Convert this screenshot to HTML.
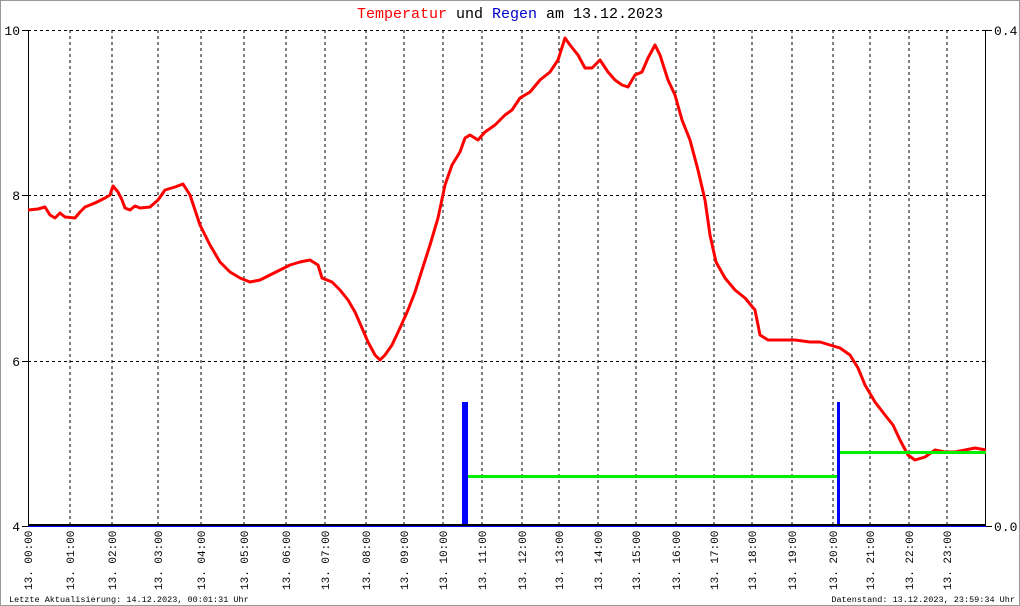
<!DOCTYPE html>
<html><head><meta charset="utf-8"><style>
body{margin:0;background:#fff}
svg{display:block}
text{font-family:"Liberation Mono","DejaVu Sans Mono",monospace}
</style></head><body>
<svg width="1020" height="606" viewBox="0 0 1020 606" xmlns="http://www.w3.org/2000/svg">
<rect x="0.5" y="0.5" width="1019" height="605" fill="#fff" stroke="#999"/>
<text x="510" y="18" text-anchor="middle" font-size="15"><tspan fill="#f00">Temperatur</tspan> <tspan fill="#000">und</tspan> <tspan fill="#00c">Regen</tspan> <tspan fill="#000">am 13.12.2023</tspan></text>
<g stroke="#000" stroke-dasharray="3,3" stroke-width="1">
<line x1="28" y1="30.5" x2="986" y2="30.5"/>
<line x1="28" y1="195.5" x2="986" y2="195.5"/>
<line x1="28" y1="361.5" x2="986" y2="361.5"/>
<g id="v">
<line x1="70" y1="30" x2="70" y2="526"/><line x1="112" y1="30" x2="112" y2="526"/><line x1="158" y1="30" x2="158" y2="526"/><line x1="201" y1="30" x2="201" y2="526"/><line x1="244" y1="30" x2="244" y2="526"/><line x1="286" y1="30" x2="286" y2="526"/><line x1="325" y1="30" x2="325" y2="526"/><line x1="366" y1="30" x2="366" y2="526"/><line x1="404" y1="30" x2="404" y2="526"/><line x1="443" y1="30" x2="443" y2="526"/><line x1="482" y1="30" x2="482" y2="526"/><line x1="522" y1="30" x2="522" y2="526"/><line x1="559" y1="30" x2="559" y2="526"/><line x1="598" y1="30" x2="598" y2="526"/><line x1="636" y1="30" x2="636" y2="526"/><line x1="676" y1="30" x2="676" y2="526"/><line x1="714" y1="30" x2="714" y2="526"/><line x1="752" y1="30" x2="752" y2="526"/><line x1="792" y1="30" x2="792" y2="526"/><line x1="833" y1="30" x2="833" y2="526"/><line x1="870" y1="30" x2="870" y2="526"/><line x1="909" y1="30" x2="909" y2="526"/><line x1="947" y1="30" x2="947" y2="526"/>
</g></g>
<g stroke="#000" stroke-width="1">
<line x1="28.5" y1="30" x2="28.5" y2="526"/>
<line x1="985.5" y1="30" x2="985.5" y2="526"/>
<line x1="22" y1="30.5" x2="28" y2="30.5"/><line x1="22" y1="195.5" x2="28" y2="195.5"/><line x1="22" y1="361.5" x2="28" y2="361.5"/><line x1="22" y1="526.5" x2="28" y2="526.5"/>
<line x1="986" y1="30.5" x2="992" y2="30.5"/><line x1="986" y1="526.5" x2="992" y2="526.5"/>
</g>
<g font-size="13" fill="#000">
<text x="20" y="35" text-anchor="end">10</text><text x="20" y="200" text-anchor="end">8</text><text x="20" y="366" text-anchor="end">6</text><text x="20" y="531" text-anchor="end">4</text>
<text x="994" y="35">0.4</text><text x="994" y="531">0.0</text>
</g>
<polyline fill="none" stroke="#f00" stroke-width="3" stroke-linejoin="round" points="28,210 38,209 45,207 50,215 55,218 60,213 65,217 75,218 80,212 85,207 95,203 105,198 110,195 113,186 118,192 122,200 125,208 130,210 135,206 140,208 150,207 158,200 165,190 175,187 183,184 190,195 195,210 200,225 210,245 220,262 230,272 240,278 250,282 260,280 270,275 280,270 290,265 300,262 310,260 318,265 322,278 332,282 340,290 348,300 355,312 362,328 368,342 375,355 380,360 385,355 392,345 400,328 408,310 415,292 422,270 430,245 438,218 445,185 452,165 460,152 465,138 470,135 478,140 485,132 495,125 505,115 512,110 520,98 530,92 540,80 550,72 558,60 565,38 570,45 578,55 585,68 592,68 600,60 608,72 615,80 622,85 628,87 635,75 642,72 648,58 655,45 660,55 668,80 675,95 682,120 690,140 698,170 705,200 710,235 716,262 725,278 735,290 745,298 755,310 760,335 768,340 780,340 795,340 810,342 820,342 830,345 840,348 850,355 858,368 865,385 875,402 885,415 893,425 900,440 908,455 915,460 925,457 935,450 945,452 955,452 965,450 975,448 986,450"/>
<rect x="462" y="402" width="6" height="124" fill="#00f"/>
<rect x="837" y="402" width="3" height="124" fill="#00f"/>
<rect x="468" y="475" width="369" height="3" fill="#0e0"/>
<rect x="840" y="451" width="146" height="3" fill="#0e0"/>
<rect x="28" y="524" width="958" height="2" fill="#000"/>
<rect x="28" y="526" width="958" height="1" fill="#00f"/>
<g font-size="11" fill="#000">
<text transform="translate(32,590) rotate(-90)">13. 00:00</text>
<text transform="translate(74,590) rotate(-90)">13. 01:00</text>
<text transform="translate(116,590) rotate(-90)">13. 02:00</text>
<text transform="translate(162,590) rotate(-90)">13. 03:00</text>
<text transform="translate(205,590) rotate(-90)">13. 04:00</text>
<text transform="translate(248,590) rotate(-90)">13. 05:00</text>
<text transform="translate(290,590) rotate(-90)">13. 06:00</text>
<text transform="translate(329,590) rotate(-90)">13. 07:00</text>
<text transform="translate(370,590) rotate(-90)">13. 08:00</text>
<text transform="translate(408,590) rotate(-90)">13. 09:00</text>
<text transform="translate(447,590) rotate(-90)">13. 10:00</text>
<text transform="translate(486,590) rotate(-90)">13. 11:00</text>
<text transform="translate(526,590) rotate(-90)">13. 12:00</text>
<text transform="translate(563,590) rotate(-90)">13. 13:00</text>
<text transform="translate(602,590) rotate(-90)">13. 14:00</text>
<text transform="translate(640,590) rotate(-90)">13. 15:00</text>
<text transform="translate(680,590) rotate(-90)">13. 16:00</text>
<text transform="translate(718,590) rotate(-90)">13. 17:00</text>
<text transform="translate(756,590) rotate(-90)">13. 18:00</text>
<text transform="translate(796,590) rotate(-90)">13. 19:00</text>
<text transform="translate(837,590) rotate(-90)">13. 20:00</text>
<text transform="translate(874,590) rotate(-90)">13. 21:00</text>
<text transform="translate(913,590) rotate(-90)">13. 22:00</text>
<text transform="translate(951,590) rotate(-90)">13. 23:00</text>
</g>
<text x="9" y="602" font-size="8.5" fill="#000">Letzte Aktualisierung: 14.12.2023, 00:01:31 Uhr</text>
<text x="1015" y="602" font-size="8.5" fill="#000" text-anchor="end">Datenstand: 13.12.2023, 23:59:34 Uhr</text>
</svg>
</body></html>
